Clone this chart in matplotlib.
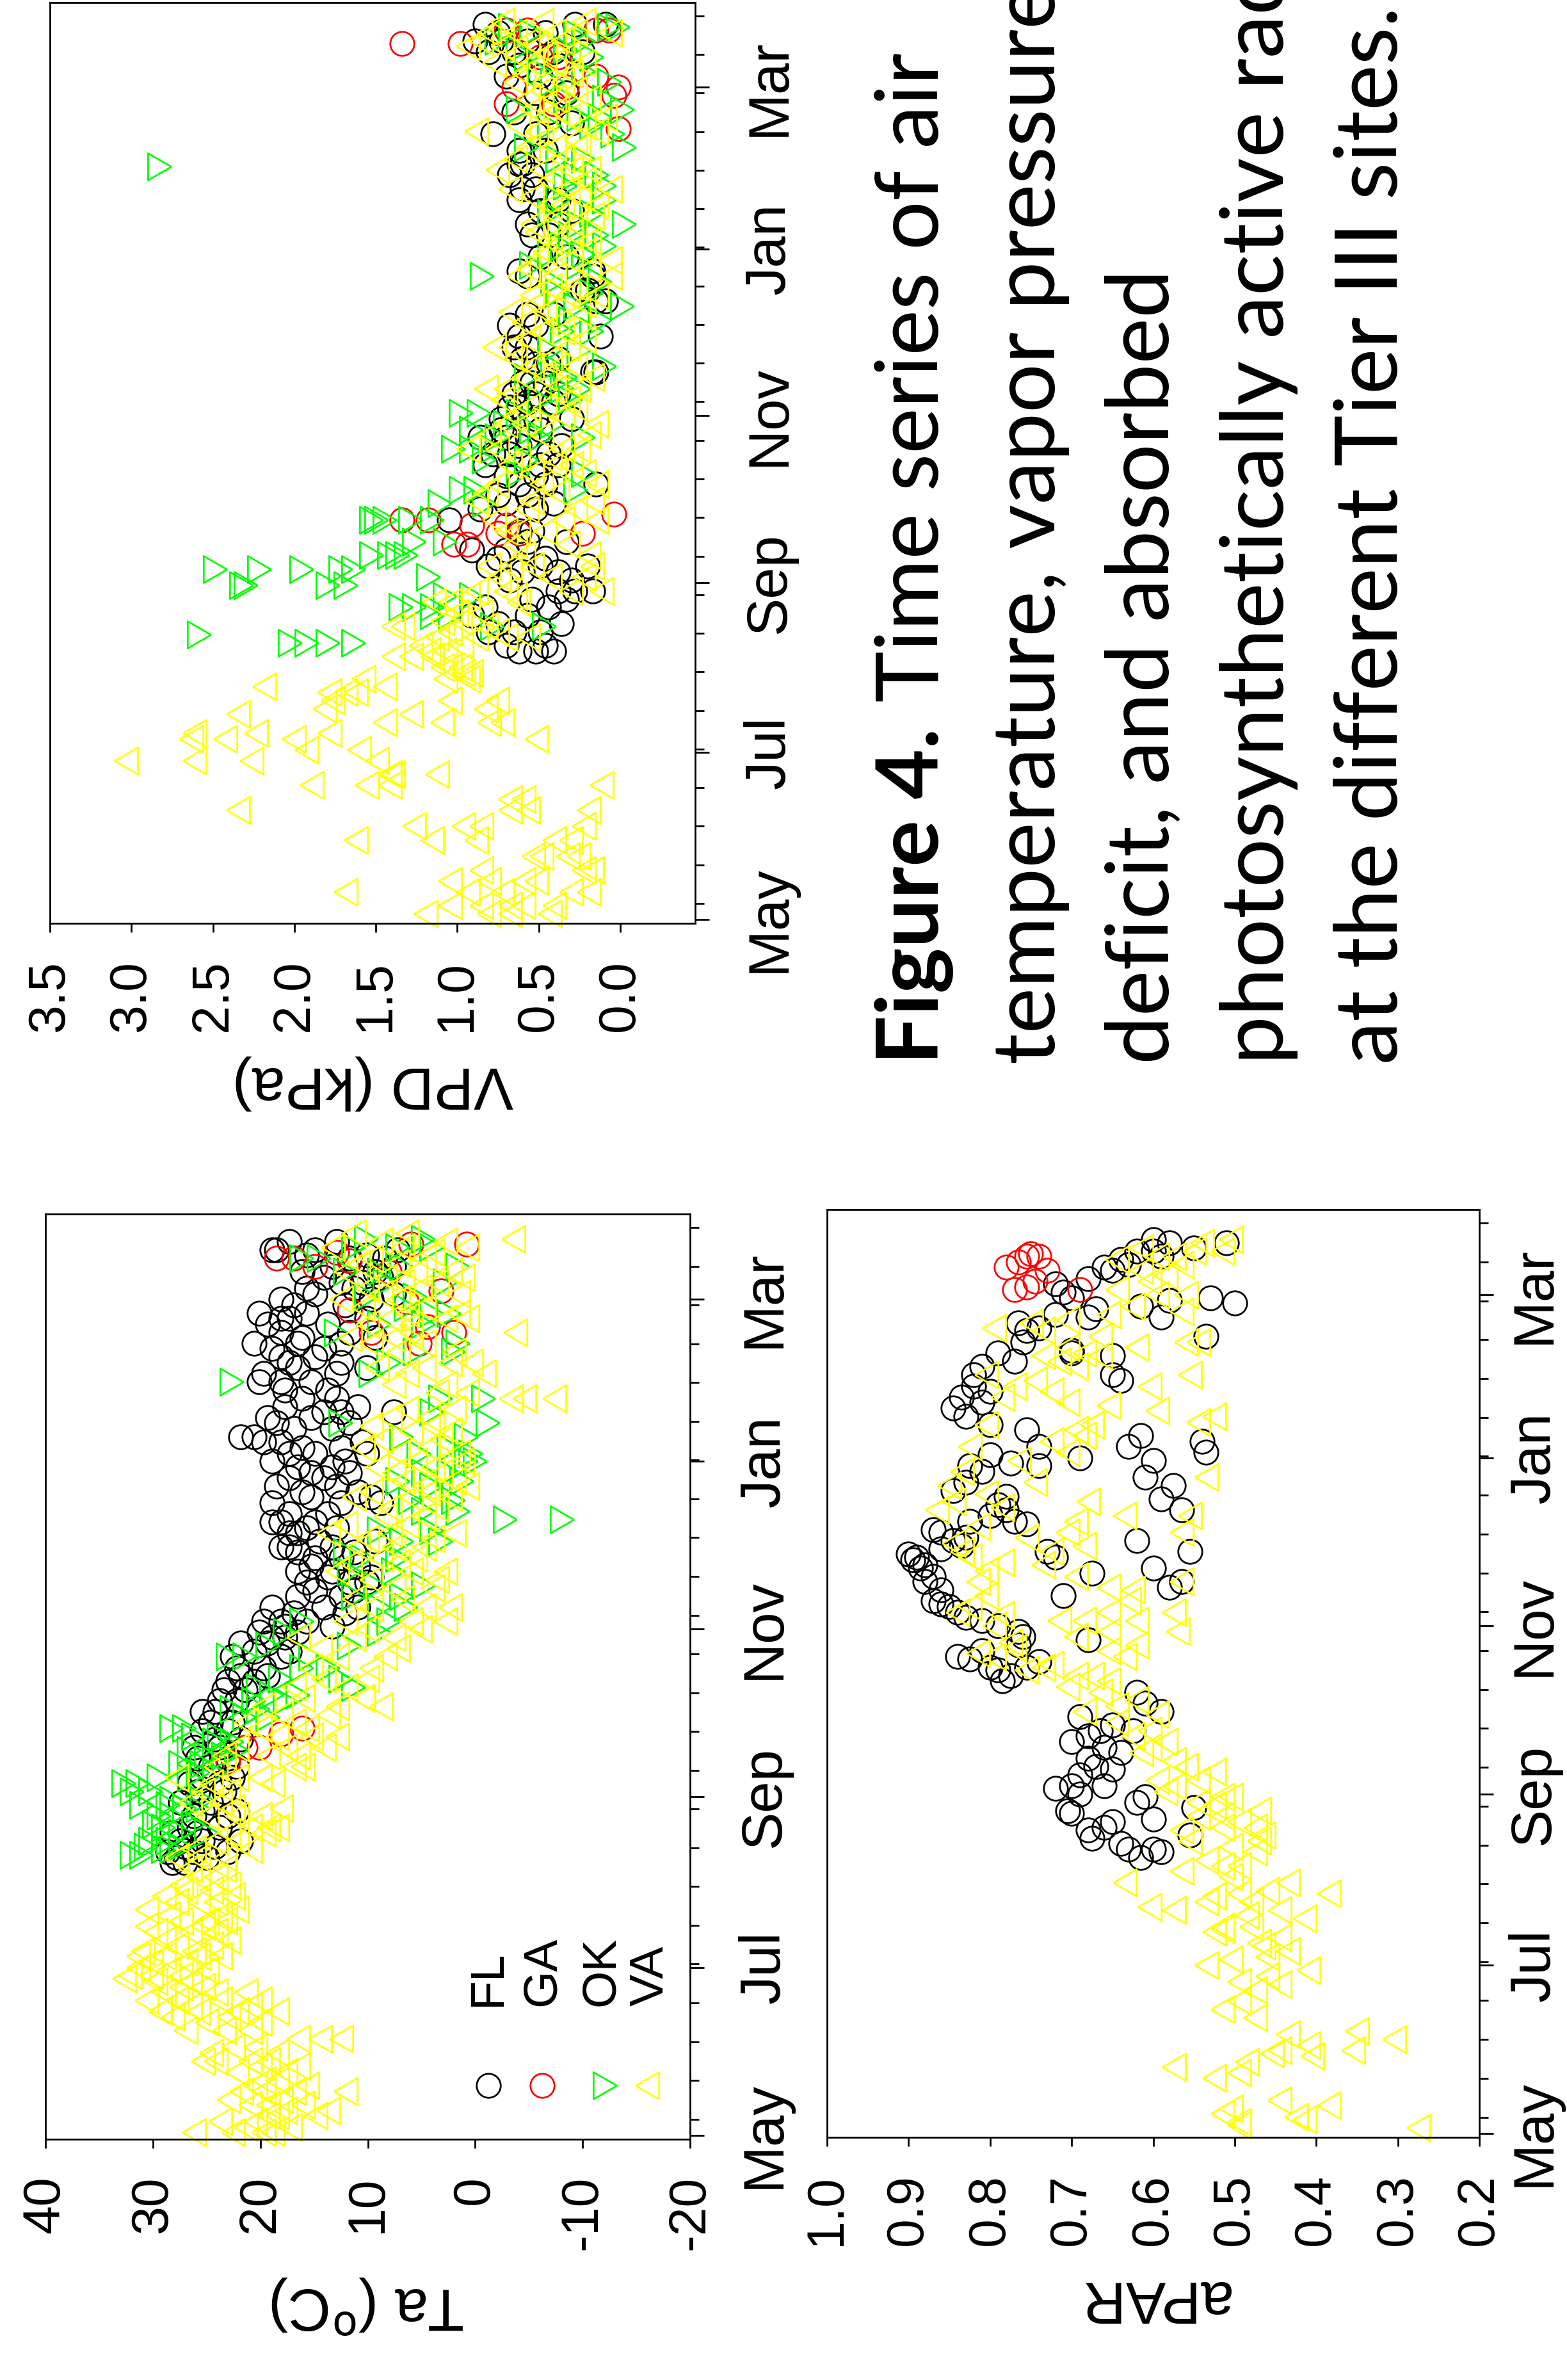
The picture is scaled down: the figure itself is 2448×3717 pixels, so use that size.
import matplotlib
matplotlib.use("Agg")
import matplotlib.pyplot as plt
from matplotlib.ticker import FixedLocator, MultipleLocator

W, H, DPI = 2448, 3717, 100

plt.rcParams["font.family"] = ["Liberation Sans", "DejaVu Sans"]
plt.rcParams["axes.unicode_minus"] = False
plt.rcParams["axes.linewidth"] = 2

# time axis: days since 1 May
month_days = [0, 61, 123, 184, 245, 304]
month_names = ["May", "Jul", "Sep", "Nov", "Jan", "Mar"]

sites = ["FL", "GA", "OK", "VA"]
colors = {"FL": "black", "GA": "#ff0000", "OK": "#00ff00", "VA": "#ffff00"}

# rows are [day, value, value, ...]
vpd_fl = [[98, .62, .52, .41], [100, .70, .46], [105, .81, .65, .49], [108, .75, .36], [111, .91, .57],
          [114, .83, .44], [117, .54, .33], [120, .38, .28, .17], [124, .68, .30], [127, .60, .38],
          [129, .81, .49, .20], [132, .75, .46], [135, .91, .70], [138, .57, .33], [142, .62, .54],
          [146, 1.05], [150, .86, .52], [152, .70, .41], [155, .75, .57], [159, .62, .46, .15],
          [162, .70, .52], [166, .83, .49, .38], [170, .78, .68, .44], [173, .62, .36],
          [176, .86, .70, .57], [179, .73, .49], [183, .73, .52, .30], [187, .68, .62], [189, .57, .41],
          [192, .65, .52, .38], [196, .60, .54, .46], [200, .17, .15], [203, .52, .44], [205, .60, .38],
          [209, .65, .57], [213, .62, .12], [217, .68, .52], [221, .57, .41], [226, .15, .09],
          [230, .23, .20], [235, .57, .17], [237, .62, .17], [242, .49, .33], [250, .54, .44],
          [254, .57, .38], [259, .49, .30], [263, .62, .38], [267, .60, .52], [272, .68, .54],
          [276, .62, .60], [281, .62, .46], [287, .78, .52], [291, .30], [295, .65, .44],
          [302, .52, .33], [308, .70, .49], [312, .62, .38], [317, .81, .65, .41, .23],
          [321, .89, .73, .57], [324, .75, .46], [327, .83, .28, .09]]
vpd_ga = [[137, 1.02, .94], [141, .75, .62, .23], [144, .91, .70], [146, 1.34, 1.18], [148, .04],
          [289, .01], [298, .70, .41], [301, .04], [304, .65, .33, .01], [308, .15], [315, .49, .38],
          [320, 1.34, .98], [325, .70, .57, .15, .07]]
vpd_ok = [[101, 2.05, 1.95, 1.82, 1.66], [104, 2.61], [107, .81, .49], [111, 1.18, 1.07],
          [114, 1.37, 1.29, 1.18], [118, 1.10, .94], [122, 2.35, 2.32, 1.82, 1.71], [125, 1.20],
          [128, 2.51, 2.24, 1.98, 1.74, 1.66], [133, 1.55, 1.44, 1.39, 1.34], [138, 1.29, 1.10],
          [146, 1.55, 1.52, 1.47, 1.31, 1.18], [152, 1.13, .86], [157, 1.0, .91, .30], [163, .65, .25],
          [168, .86, .60], [172, 1.05, .94, .81], [176, .78, .52, .25], [179, .94, .57], [181, .73, .44],
          [185, 1.0, .89, .65], [190, .52, .33], [194, .38, .28], [198, .60, .36], [202, .44, .12],
          [208, .46, .28], [215, .38, .20], [219, .33, .15], [224, .30, .01], [229, .41, .20],
          [233, .44, .15], [235, .87], [239, .57, .28], [243, .46, .25], [246, .38, .12], [250, .33, .17],
          [254, .28, 0.0], [258, .46, .20], [263, .41, .12], [268, .36, .12], [272, .30, .17],
          [275, 2.85], [278, .41, .25], [282, .60, 0.0], [287, .07], [290, .46, .20], [293, .28, .15],
          [296, .65, .01], [300, .36, .12], [306, .44, .09], [310, .52, .25], [315, .60, .20],
          [318, .65, .36], [321, .78, .25], [324, .57, .30], [326, .70, .09, .04]]
vpd_va = [[2, 1.17, .78, .65, .41], [5, 1.02, .83, .65, .57, .38], [10, 1.66, .91, .70, .28, .17],
          [14, 1.02, .78, .57, .49], [18, .83, .20, .15], [23, .51, .46, .30, .23],
          [29, 1.60, 1.13, .86, .38, .28], [34, 1.24, .94, .83, .20], [40, 2.32, .65, .54, .17],
          [44, .65, .57], [49, 1.87, 1.53, 1.39, .09], [53, 1.39, 1.37, 1.10],
          [58, 3.01, 2.59, 2.24, 1.47], [62, 1.90, 1.58], [66, 2.61, 2.40, 1.98, .49],
          [68, 2.21, 2.59, 1.76], [72, 1.42, 1.07, .78, .70], [75, 2.32, 1.26], [77, 1.79, .80],
          [80, 1.74, 1.02, .73], [83, 1.76, 1.66, 1.60], [85, 2.16, 1.42], [88, 1.55, 1.05, .91],
          [90, .94, .89], [92, 1.07, 1.02, .96], [96, 1.37, 1.26, 1.13], [98, 1.15, 1.05],
          [100, 1.20, .95], [103, 1.10, .86, .68, .54], [105, 1.02, .73], [107, 1.37, 1.31, .80],
          [109, 1.07, .96], [112, .98, .83], [116, 1.12, 1.02, .60], [118, .91, .62],
          [120, .86, .68, .28, .09], [125, .72, .41, .20], [129, .78, .65, .52, .15], [133, .57, .17],
          [137, .62, .30], [142, .68, .60, .44], [146, .75, .33, .12], [150, .55, .25],
          [153, .86, .52, .15], [156, .80, .36], [159, .73, .46, .12], [163, .52, .20],
          [166, .65, .38, .28], [169, .60, .41], [172, .91, .73, .33, .23], [177, .78, .46, .17],
          [181, .68, .57, .12], [184, .62, .33], [187, .54, .44, .25], [190, .70, .30],
          [194, .80, .68, .38, .23], [198, .57, .44, .15], [202, .52, .36, .25], [205, .62, .41],
          [209, .75, .65, .30], [212, .54, .20], [215, .46, .33], [218, .57, .36], [222, .65, .44, .23],
          [225, .49, .20], [228, .52, .30, .12], [231, .41, .25], [235, .60, .38, .04], [238, .54, .17],
          [241, .49, .28, .04], [244, .44, .20], [248, .41, .36, .17], [251, .49, .28], [254, .52, .25],
          [257, .36, .15], [261, .41, .33, .12], [264, .52, .23], [267, .65, .30, .04], [270, .41, .20],
          [274, .73, .46, .28, .17], [278, .62, .33], [282, .54, .38, .23], [285, .46, .25],
          [288, .86, .49, .12], [290, .60, .20], [293, .44, .30, .07], [296, .52, .36],
          [300, .54, .38, .17], [303, .46, .25], [306, .62, .44, .33], [309, .57, .28],
          [313, .75, .52, .38, .20], [316, .62, .44, .30], [319, .91, .70, .49], [321, .83, .54, .33],
          [324, .78, .62, .38, .25, .04], [328, .70, .46, .20]]

ta_fl = [[99, 28.2, 27.0], [101, 27.8, 25.0], [103, 28.6, 26.2, 23.0], [105, 27.0, 24.2],
         [107, 27.4, 25.4, 21.8], [110, 28.2, 25.8], [112, 26.6, 23.8], [116, 26.2, 23.0],
         [118, 25.4, 22.2], [121, 27.4, 24.6], [125, 25.8, 23.4], [128, 26.6, 23.8], [130, 25.4, 22.6],
         [134, 24.6, 22.2], [137, 25.8, 23.0], [141, 26.2, 23.8], [144, 24.2, 21.8], [147, 25.4, 23.0],
         [150, 24.6, 22.6], [154, 25.4, 24.2], [158, 23.8, 22.2], [162, 23.4, 21.4], [165, 23.0, 20.6],
         [167, 21.8, 19.3], [170, 22.2, 19.7], [174, 22.6, 18.1], [176, 20.6, 17.3], [179, 21.8, 19.3],
         [181, 18.9, 17.7], [183, 20.1, 16.5], [185, 17.7, 13.3], [187, 19.7, 18.1, 15.7],
         [190, 16.9, 12.1], [192, 18.9, 14.1, 10.9], [196, 16.5, 12.5], [198, 14.9, 11.3],
         [201, 15.7, 11.7, 10.1], [203, 13.7, 9.7], [205, 16.5, 13.3], [207, 15.3, 10.9],
         [210, 14.9, 12.5], [212, 16.5, 11.3], [214, 18.1, 17.3, 13.3], [216, 14.5, 9.3],
         [219, 17.3, 16.5], [221, 15.7, 12.9], [223, 18.9, 18.1, 14.9], [226, 17.3, 13.7],
         [230, 18.9, 12.5, 8.8], [232, 15.3, 9.7], [234, 16.1, 10.9], [236, 18.5, 12.9],
         [239, 17.3, 14.1], [241, 15.3, 11.7], [243, 16.5, 13.3], [245, 18.9, 12.1],
         [248, 17.3, 14.9, 10.1], [250, 16.1, 12.5], [252, 19.7, 18.1, 10.5], [254, 21.8, 20.6],
         [257, 16.9, 13.3], [259, 18.5, 11.7], [261, 19.3, 15.3], [263, 14.1, 12.5, 7.6],
         [265, 17.7, 10.9], [268, 16.1, 12.9], [271, 17.7, 13.7], [274, 20.1, 18.1, 15.3],
         [277, 19.7, 12.9], [279, 16.5, 10.1], [281, 17.3, 12.5], [283, 18.1, 14.9], [286, 18.9, 14.1],
         [288, 20.6, 16.5, 12.5], [290, 16.1, 9.3], [292, 18.1, 11.7], [295, 19.3, 13.7],
         [297, 18.1, 17.3, 10.1], [299, 20.1, 15.7], [302, 16.9, 12.1], [304, 18.1, 9.7],
         [306, 14.9, 7.6], [308, 15.7, 11.3], [310, 12.5, 10.5], [312, 14.1, 8.8], [314, 16.1, 9.3],
         [316, 13.3, 7.6], [319, 11.7, 8.4], [320, 15.7, 10.1], [322, 18.9, 18.5, 14.9, 7.2],
         [325, 17.3, 12.9]]
ta_ga = [[136, 23.0], [141, 21.4, 20.1], [146, 18.1], [148, 16.1], [288, 5.2], [292, 2.0, 9.7],
         [294, 4.4], [300, 11.7], [303, 6.4], [307, 3.2], [314, 8.0], [316, 14.9], [318, 11.7],
         [319, 18.5, 16.9], [321, 12.9], [324, 6.0, 0.8]]
ta_ok = [[102, 32.3, 31.4], [104, 29.4, 28.6], [105, 31.0, 27.8], [107, 30.6, 29.0], [110, 27.8, 25.4],
         [112, 29.4], [113, 30.2, 26.6], [116, 29.8, 28.6], [119, 27.4, 26.2], [120, 31.4, 29.0],
         [122, 28.6, 25.8], [125, 32.3, 30.6], [128, 33.1, 31.8], [130, 29.8, 27.0], [132, 26.2, 24.6],
         [135, 27.8, 25.8], [138, 25.4, 23.8], [140, 27.0, 22.6], [143, 24.6, 23.0], [145, 26.6, 24.2],
         [148, 28.6, 27.4], [152, 21.8, 19.7], [155, 23.0, 20.6], [158, 21.0, 18.1], [160, 19.3, 16.9],
         [163, 20.6, 11.7], [166, 18.5, 12.9], [170, 16.5, 14.1], [174, 23.4, 21.8, 15.7],
         [178, 19.7, 12.1], [183, 18.1, 9.3], [187, 16.5, 8.4], [192, 9.3, 6.8], [196, 11.7, 7.2],
         [200, 9.7, 5.2], [205, 12.1, 8.0], [210, 10.9, 7.6], [212, 12.5], [216, 7.2, 3.6],
         [220, 9.3, 4.4], [224, -2.4, -7.7], [227, 5.2, 2.0], [231, 6.4, 2.4], [236, 4.4],
         [238, 7.6, 1.6], [241, 5.2, 2.8], [245, 1.2, 0.4], [248, 5.6, 0.8], [250, 2.8], [254, 7.2, 1.2],
         [259, 12.9, -0.8], [263, 4.4], [268, 3.6, -0.4], [274, 23.0], [277, 10.1], [281, 8.4],
         [285, 6.0, 2.4], [288, 2.0], [292, 13.3], [295, 9.3, 5.2], [299, 4.4, 2.8], [301, 6.8],
         [305, 10.5, 6.0], [310, 8.8, 3.2], [314, 12.5, 9.3], [316, 7.2, 2.0], [319, 16.5, 14.9],
         [323, 11.7, 7.6, 4.4], [326, 10.5, 5.2]]
ta_va = [[1, 25.8, 22.2, 19.3, 18.5], [3, 21.0, 16.9], [5, 23.4, 20.1], [7, 18.9, 18.1, 14.5],
         [9, 17.3, 13.3], [11, 20.6, 18.9, 15.7], [13, 22.6, 17.7], [16, 21.4, 19.3, 16.5, 11.7],
         [18, 20.1, 15.3], [20, 19.3, 18.1], [23, 21.8, 17.3], [25, 19.7, 16.1],
         [27, 25.0, 23.8, 20.6, 18.9], [30, 24.2, 18.1], [32, 22.2, 20.1], [35, 16.1, 14.1, 12.1],
         [38, 26.6, 23.0, 20.6], [41, 24.6, 19.7], [43, 27.8, 22.6], [45, 29.0, 25.4, 21.8, 18.1],
         [47, 26.2, 20.6], [49, 30.2, 27.4, 23.4, 19.7], [52, 28.6, 23.8, 21.0], [54, 27.0, 25.0],
         [56, 29.4, 26.2], [57, 32.3], [58, 31.8, 29.8, 27.0], [60, 28.2, 24.6], [61, 31.0],
         [63, 29.8, 26.6], [65, 31.0, 28.6, 25.4, 23.4], [67, 30.6, 25.8], [69, 27.4, 24.2],
         [71, 28.6, 22.6], [74, 29.4, 26.2, 23.8], [76, 30.2, 25.0], [78, 27.0, 24.6, 22.9],
         [80, 28.2, 23.4], [82, 30.2, 21.8], [85, 27.4, 25.4, 23.8], [87, 28.6, 22.2], [89, 26.6, 24.2],
         [91, 27.0, 22.6], [94, 25.4, 23.8], [97, 26.2, 23.0], [101, 27.4, 25.4, 22.9], [104, 25.8, 20.6],
         [107, 23.8, 21.8], [110, 22.6, 19.3], [112, 20.6, 18.9, 18.1], [116, 24.6, 21.8, 19.7],
         [119, 22.2, 17.7], [121, 26.2, 23.4], [125, 25.0, 22.6], [128, 24.2, 18.5],
         [130, 27.4, 21.8, 19.7], [134, 23.8, 16.5, 15.7], [138, 23.0, 18.9, 16.1],
         [141, 21.8, 17.3, 13.7], [145, 18.1, 14.9, 12.5], [148, 19.7, 15.3], [150, 21.0, 16.5],
         [153, 17.7, 13.3], [156, 19.3, 12.5, 8.4], [159, 15.7, 10.1], [163, 16.5, 11.7],
         [166, 13.7, 9.7], [170, 14.9, 9.3], [174, 12.5, 8.0], [177, 14.1, 6.8], [181, 16.1, 10.9, 7.2],
         [184, 9.7, 4.8], [187, 11.7, 5.6, 2.4], [192, 9.3, 4.4, 2.0], [195, 10.9, 6.4], [199, 7.2, 3.6],
         [202, 9.3, 3.2], [205, 12.5, 5.6, 2.4], [208, 11.3, 6.8], [210, 8.4, 5.2],
         [214, 10.5, 7.2, 4.4], [217, 9.7, 3.6], [219, 13.3, 7.6, 1.6], [222, 11.7, 6.0],
         [225, 8.0, 4.4], [228, 7.6, 3.2], [232, 10.9, 5.6, 2.0], [234, 9.3, 4.0], [236, 4.4, 0.4],
         [238, 6.4, 1.6], [241, 7.2, 2.8], [243, 8.8, 3.6], [245, 5.2, 0.8], [248, 6.8, 1.2],
         [250, 10.1, 4.0], [253, 8.4, 2.8], [256, 5.6, 2.0], [258, 9.3, 3.6], [261, 7.6, 4.0],
         [264, 6.0, 1.6], [268, -3.7, -4.9, -7.7], [270, 3.2, 0.4], [273, 7.2, 2.4], [277, 6.0, -1.2],
         [279, 8.8, 4.4], [281, 2.0, 0.0], [285, 6.8, 1.6], [288, 9.3, 4.4], [290, 11.3, 7.2],
         [292, 5.6, -4.1], [295, 9.7, 5.6], [297, 7.6, 2.4, 0.4], [299, 6.0, 1.2], [301, 10.1, 4.4],
         [304, 12.1, 6.8], [306, 8.4, 1.2], [308, 9.7, 4.8], [310, 6.4, 3.2], [312, 8.0, 0.8],
         [314, 11.7, 5.2, 2.0], [317, 10.5, 6.8], [319, 9.3, 4.4], [321, 3.6], [323, 12.9, 6.4, 0.4],
         [325, 8.4, 2.4], [326, -3.9], [328, 10.9, 6.0]]

apar_fl = [[100, .615], [102, .59], [103, .63, .60], [105, .64], [107, .675], [108, .555], [110, .68],
           [111, .66], [113, .65], [114, .60], [116, .70], [117, .705], [118, .55], [120, .62],
           [122, .61], [123, .69], [125, .72], [126, .70, .66], [130, .69], [132, .65], [133, .67],
           [136, .68], [138, .64], [140, .66], [142, .70], [144, .68], [146, .625, .665], [148, .65],
           [151, .69], [153, .59], [156, .61], [160, .62], [164, .785], [166, .775], [168, .79],
           [169, .755, .80], [171, .74], [172, .825], [173, .84], [175, .81], [177, .765], [179, .68],
           [180, .76], [182, .765], [184, .79], [186, .81], [187, .83], [189, .84], [191, .85],
           [192, .86], [193, .87], [195, .71], [197, .86], [198, .58], [200, .88, .565], [202, .87],
           [203, .675], [205, .885, .60], [206, .88], [208, .895], [209, .89, .72], [210, .90],
           [211, .73, .555], [212, .86], [213, .835], [215, .845, .62], [216, .83], [218, .86],
           [219, .87], [221, .755], [222, .825, .77], [224, .80], [226, .78, .565], [228, .79],
           [230, .59], [231, .78], [233, .845], [235, .575], [236, .83], [238, .61], [240, .81],
           [242, .825, .74], [243, .775], [244, .60], [245, .69], [246, .80], [247, .535],
           [249, .63, .74], [251, .54], [253, .615], [255, .755], [257, .80], [260, .83], [263, .845],
           [265, .81], [267, .835], [269, .80], [271, .82], [273, .64], [275, .82, .65], [278, .81],
           [280, .77], [282, .65], [283, .79, .70], [284, .70], [287, .76], [289, .535], [291, .755],
           [292, .74], [294, .765], [296, .68, .59], [297, .72], [299, .67], [300, .615], [301, .50],
           [302, .58], [303, .53, .70], [305, .71], [308, .72], [310, .68], [313, .65], [314, .66],
           [315, .63], [317, .64], [318, .59], [320, .62, .60], [321, .55], [323, .58, .51], [324, .60]]
apar_ga = [[306, .77, .69], [307, .755], [309, .745], [313, .73], [314, .78], [316, .765],
           [318, .74, .755], [319, .75]]
apar_va = [[2, .27], [3, .49], [4, .49], [5, .41], [6, .42], [7, .51], [9, .50], [10, .38], [12, .44],
           [20, .52], [22, .49], [24, .57], [26, .48], [28, .40], [29, .45], [30, .44, .35], [32, .405],
           [34, .30], [36, .43], [37, .345], [42, .47], [45, .51], [48, .49], [52, .47], [54, .44],
           [55, .49], [57, .455], [59, .405], [61, .53], [63, .50], [64, .455], [66, .43], [68, .46],
           [69, .465], [71, .44], [73, .52], [74, .51], [75, .51, .475], [78, .41], [79, .48],
           [81, .44, .57], [82, .60], [84, .475, .53], [86, .52], [87, .49, .38], [88, .455],
           [91, .43, .63], [93, .50], [95, .56], [97, .49, .51], [99, .53], [102, .47], [104, .50],
           [106, .465, .55], [108, .46], [110, .56], [111, .51, .47], [113, .49], [115, .51, .54],
           [117, .465], [119, .52], [120, .54], [122, .51, .50], [124, .58], [126, .57], [128, .54, .59],
           [131, .52], [133, .555], [135, .57], [138, .61], [140, .60], [142, .58], [144, .62],
           [146, .60], [149, .64], [152, .59], [153, .68], [155, .64], [157, .615], [160, .66],
           [162, .70], [164, .65], [166, .69, .67], [168, .75], [169, .73], [170, .72], [173, .79, .63],
           [174, .81], [175, .65], [176, .765], [177, .615], [178, .77], [180, .69], [182, .565, .65],
           [184, .79], [186, .71, .68, .615], [188, .78], [189, .835, .65, .57], [191, .82], [193, .625],
           [195, .80], [197, .62], [198, .65], [200, .81, .56], [202, .69], [204, .80], [206, .73],
           [207, .78], [209, .82], [211, .83, .72], [213, .68], [214, .84], [216, .75], [218, .70, .56],
           [220, .81], [222, .69], [224, .63, .55], [226, .86], [227, .78], [229, .84, .675], [232, .80],
           [235, .845], [236, .74], [238, .53], [240, .83], [244, .76], [247, .70], [249, .82],
           [251, .72], [253, .68], [255, .69], [257, .80, .67], [258, .54], [260, .52], [262, .59],
           [264, .65], [265, .70], [267, .78], [269, .72], [271, .765, .60], [273, .74], [275, .80, .55],
           [278, .69], [280, .71], [282, .73, .66], [283, .68], [285, .70, .615], [287, .555, .54],
           [289, .66], [291, .73], [292, .79], [294, .745], [295, .70], [297, .65], [298, .56],
           [300, .62], [304, .59, .555], [306, .64], [309, .60], [311, .58], [313, .61], [315, .56],
           [317, .64], [318, .59, .57], [320, .545, .51], [321, .61], [323, .535], [324, .50]]

caption_bold = "Figure 4."
caption_lines = [" Time series of air",
                 "temperature, vapor pressure",
                 "deficit, and absorbed",
                 "photosynthetically active radiation",
                 "at the different Tier III sites."]

# equilateral open triangles
tri_left = [(-0.577, 0.0), (0.289, 0.5), (0.289, -0.5), (-0.577, 0.0)]
tri_right = [(0.577, 0.0), (-0.289, 0.5), (-0.289, -0.5), (0.577, 0.0)]
markers = {"FL": "o", "GA": "o", "OK": tri_right, "VA": tri_left}
msizes = {"FL": 27, "GA": 27, "OK": 35, "VA": 35}


def expand(rows):
    days, vals = [], []
    for row in rows:
        for v in row[1:]:
            days.append(row[0])
            vals.append(v)
    return days, vals


fig = plt.figure(figsize=(W / DPI, H / DPI), dpi=DPI)


def panel(left, top, right, bottom):
    return fig.add_axes([left / W, 1 - bottom / H, (right - left) / W, (bottom - top) / H])


def draw(ax, series):
    for site in sites:
        if site not in series:
            continue
        d, v = expand(series[site])
        ax.plot(v, d, ls="none", marker=markers[site], ms=msizes[site], mfc="none",
                mec=colors[site], mew=2, clip_on=False)


def style(ax, xlim, xticks, xlabels, title, month_pad=38):
    ax.set_xlim(xlim)
    ax.set_ylim(-1.5, 335)
    ax.set_xticks(xticks)
    ax.set_xticklabels(xlabels, rotation=90)
    ax.xaxis.set_ticks_position("bottom")
    ax.yaxis.set_ticks_position("right")
    ax.yaxis.set_major_locator(FixedLocator(month_days))
    ax.yaxis.set_minor_locator(MultipleLocator(14.1, offset=5.8))
    ax.set_yticklabels(month_names, rotation=90, va="center", ha="left")
    ax.tick_params(axis="x", direction="out", length=10, width=2, pad=31, labelsize=58)
    ax.tick_params(axis="y", which="major", direction="out", length=16, width=2, pad=month_pad,
                   labelsize=64, labelright=True, labelleft=False)
    ax.tick_params(axis="y", which="minor", direction="out", length=10, width=2)
    ax.set_xlabel(title, rotation=180, fontsize=67, labelpad=27)


# VPD panel
ax_vpd = panel(78, 4, 1086, 1442)
draw(ax_vpd, {"FL": vpd_fl, "GA": vpd_ga, "OK": vpd_ok, "VA": vpd_va})
style(ax_vpd, (3.5, -0.46), [3.5, 3.0, 2.5, 2.0, 1.5, 1.0, 0.5, 0.0],
      ["3.5", "3.0", "2.5", "2.0", "1.5", "1.0", "0.5", "0.0"], "VPD (kPa)")

# air temperature panel
ax_ta = panel(71, 1896, 1078, 3341)
draw(ax_ta, {"FL": ta_fl, "GA": ta_ga, "OK": ta_ok, "VA": ta_va})
style(ax_ta, (40, -20), [40, 30, 20, 10, 0, -10, -20],
      ["40", "30", "20", "10", "0", "-10", "-20"], r"Ta ($^{\mathrm{o}}$C)")

# legend drawn in the lower corner of the temperature panel
for site, xf in zip(sites, [0.687, 0.771, 0.862, 0.939]):
    ax_ta.plot([xf], [0.058], transform=ax_ta.transAxes, ls="none", marker=markers[site],
               ms=msizes[site], mfc="none", mec=colors[site], mew=2, clip_on=False)
    ax_ta.text(xf, 0.144, site, transform=ax_ta.transAxes, rotation=90, ha="center",
               va="bottom", fontsize=54)

# absorbed PAR panel
ax_par = panel(1292, 1889, 2311, 3338)
draw(ax_par, {"FL": apar_fl, "GA": apar_ga, "VA": apar_va})
style(ax_par, (1.0, 0.2), [1.0, 0.9, 0.8, 0.7, 0.6, 0.5, 0.4, 0.3, 0.2],
      ["1.0", "0.9", "0.8", "0.7", "0.6", "0.5", "0.4", "0.3", "0.2"], "aPAR", month_pad=16)

# caption, written sideways; long lines run past the top edge of the page
cap_font = dict(family=["Lato", "DejaVu Sans"], fontsize=97.5, rotation=90,
                rotation_mode="anchor", ha="left", va="baseline")
baselines = [1466, 1648, 1826, 2005, 2183]
start_y = 1662
renderer = fig.canvas.get_renderer()
tb = fig.text(baselines[0] / W, 1 - start_y / H, caption_bold, fontweight="bold", **cap_font)
bb = tb.get_window_extent(renderer)
fig.text(baselines[0] / W, (bb.y1 + 6) / H, caption_lines[0], **cap_font)
for xb, line in zip(baselines[1:], caption_lines[1:]):
    fig.text(xb / W, 1 - start_y / H, line, **cap_font)

fig.savefig("out.png", dpi=DPI)
